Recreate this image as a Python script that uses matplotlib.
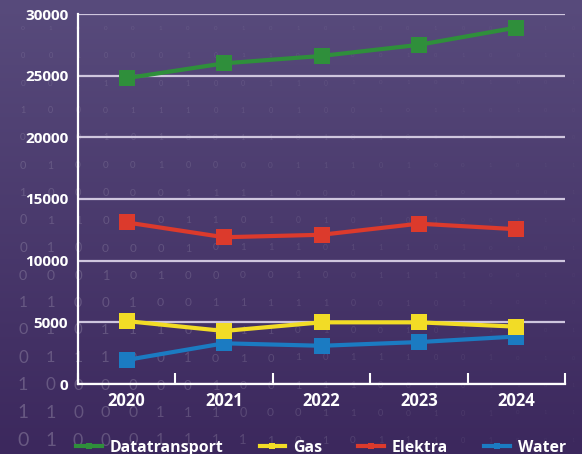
import numpy as np
import matplotlib
matplotlib.use("Agg")
import matplotlib.pyplot as plt
from matplotlib.lines import Line2D

# ---- data ----
years = ['2020', '2021', '2022', '2023', '2024']
datatransport = [24800, 26000, 26600, 27500, 28900]
gas = [5100, 4300, 5000, 5000, 4650]
elektra = [13100, 11900, 12100, 13000, 12550]
water = [1950, 3300, 3100, 3400, 3850]
y_ticks = [0, 5000, 10000, 15000, 20000, 25000, 30000]

series_names = ['Datatransport', 'Gas', 'Elektra', 'Water']
colors = {'Datatransport': '#2f8f3b', 'Gas': '#f2dc26',
          'Elektra': '#dc3a2c', 'Water': '#1b7bc2'}

# decorative binary background rows
binary_rows = [
    "010001001010100100110",
    "001000101101001010011",
    "001100100110101001001",
    "100011101010010110100",
    "010101001101010011010",
    "010001000011101001011",
    "100000111100011101001",
    "011010110101010100110",
    "010000101110111010101",
    "000101000010011110010",
    "110010011111001011010",
    "010111011101001011001",
    "011100101010111001010",
    "100000010011100101101",
    "110001110001100101011",
    "010001111101011101001",
]

FONT = 'Open Sans'
W, H = 582, 454
fig = plt.figure(figsize=(W / 100, H / 100), dpi=100)

# gradient background
bg = fig.add_axes([0, 0, 1, 1], zorder=-10)
top = np.array([0.345, 0.294, 0.486])
bot = np.array([0.235, 0.157, 0.365])
t = np.linspace(0, 1, 256)[:, None]
grad = top[None, None, :] * (1 - t[..., None]) + bot[None, None, :] * t[..., None]
grad = np.repeat(grad, 4, axis=1)
bg.imshow(grad, aspect='auto', extent=[0, 1, 0, 1], origin='upper')
bg.set_xlim(0, 1)
bg.set_ylim(0, 1)
bg.axis('off')

for r, row in enumerate(binary_rows):
    ypx = 28 + r * 27.5
    for c, ch in enumerate(row):
        xpx = 23 + c * 27.5
        fy = ypx / H
        fx = max(0.0, 1 - xpx / 560)
        size_px = 4 + 11 * fy * fx ** 1.2
        alpha = 0.04 + 0.2 * fx * (0.3 + 0.7 * fy)
        bg.text(xpx / W, 1 - ypx / H, ch, fontsize=size_px / 1.389 / 0.72,
                color='white', alpha=alpha, ha='center', va='center',
                family='Lato')

# main axes
ax = fig.add_axes([78 / W, 1 - 384 / H, (565 - 78) / W, (384 - 14) / H])
ax.set_facecolor('none')
x = np.arange(len(years))
data = {'Datatransport': datatransport, 'Gas': gas,
        'Elektra': elektra, 'Water': water}
zorders = {'Datatransport': 3, 'Elektra': 3, 'Water': 3, 'Gas': 4}
for name in series_names:
    ax.plot(x, data[name], color=colors[name], lw=3.0, marker='s',
            markersize=11.5, markeredgewidth=0, zorder=zorders[name],
            solid_capstyle='butt')

ax.set_xlim(-0.5, len(years) - 0.5)
ax.set_ylim(0, 30000)
ax.set_yticks(y_ticks)
ax.set_yticklabels([str(v) for v in y_ticks])
ax.set_xticks(x)
ax.set_xticklabels(years)
ax.set_xticks(np.arange(-0.5, len(years)), minor=True)
ax.tick_params(axis='x', which='major', length=0, pad=6, labelsize=12,
               labelcolor='white')
ax.tick_params(axis='x', which='minor', length=8, width=1.5, direction='in',
               color='white')
ax.tick_params(axis='y', length=0, pad=7, labelsize=11, labelcolor='white')
for lab in ax.get_xticklabels() + ax.get_yticklabels():
    lab.set_fontweight('bold')
    lab.set_family(FONT)

ax.grid(axis='y', color='#cfc6de', lw=1.6, zorder=1)
ax.set_axisbelow(True)
for s in ['top', 'right']:
    ax.spines[s].set_visible(False)
for s in ['left', 'bottom']:
    ax.spines[s].set_color('white')
    ax.spines[s].set_linewidth(1.6)
    ax.spines[s].set_zorder(5)

handles = [Line2D([], [], color=colors[n], lw=3, marker='s', markersize=5,
                  markeredgewidth=0) for n in series_names]
leg = fig.legend(handles, series_names, loc='center', ncol=4,
                 bbox_to_anchor=(321 / W, 1 - 448 / H), frameon=False,
                 prop={'family': FONT, 'weight': 'bold', 'size': 11.4},
                 handlelength=1.6, handletextpad=0.5, columnspacing=2.3,
                 borderpad=0, borderaxespad=0)
for txt in leg.get_texts():
    txt.set_color('white')

fig.savefig('out.png', dpi=100)
